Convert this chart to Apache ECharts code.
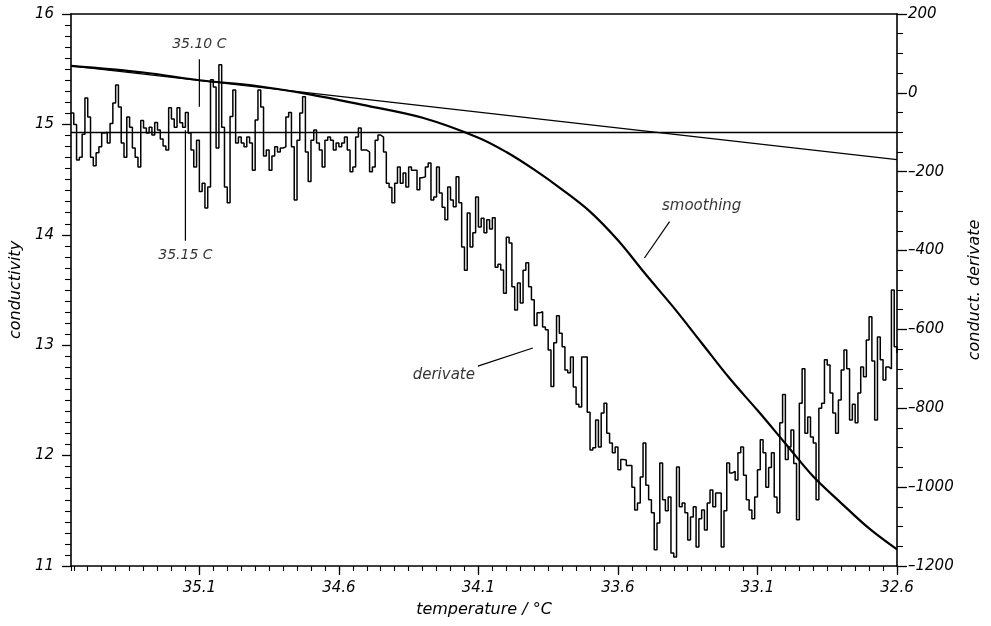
<!DOCTYPE html>
<html>
<head>
<meta charset="utf-8">
<script src="https://cdn.jsdelivr.net/npm/echarts@6/dist/echarts.min.js"></script>
<style>
  html, body { margin: 0; padding: 0; background: #fff; }
  #chart { width: 991px; height: 626px; }
</style>
</head>
<body>
<div id="chart"></div>
<script>
// Conductivity recorded while cooling, its smoothed curve and its derivative.

// derivative samples, one every temperatureStep °C starting at temperatureStart
const temperatureStart = 35.56;
const temperatureStep = 0.01;
const derivative = [
  -51, -80, -170, -163, -105, -13, -61, -163, -185, -152,
  -137, -102, -100, -127, -78, -26, 20, -36, -127, -163,
  -61, -87, -140, -163, -188, -70, -89, -102, -87, -107,
  -75, -94, -117, -135, -145, -38, -66, -87, -38, -76,
  -87, -50, -102, -145, -188, -120, -250, -229, -292, -239,
  33, 15, -140, 71, -87, -239, -279, -60, 7, -127,
  -112, -127, -137, -112, -127, -196, -69, 7, -36, -160,
  -145, -196, -160, -137, -150, -140, -137, -61, -50, -137,
  -272, -120, -51, -10, -150, -225, -120, -94, -127, -145,
  -188, -120, -112, -120, -145, -127, -137, -127, -112, -145,
  -200, -188, -112, -89, -145, -145, -150, -200, -188, -120,
  -107, -112, -150, -229, -240, -279, -229, -188, -229, -203,
  -239, -188, -196, -196, -246, -215, -213, -188, -178, -272,
  -264, -188, -254, -290, -322, -239, -272, -289, -213, -279,
  -391, -450, -305, -391, -355, -264, -340, -318, -355, -322,
  -345, -317, -442, -435, -449, -508, -366, -381, -492, -551,
  -482, -533, -450, -431, -492, -525, -590, -558, -555, -594,
  -601, -652, -745, -634, -565, -610, -644, -703, -710, -670,
  -746, -790, -797, -670, -670, -810, -906, -900, -830, -898,
  -812, -787, -863, -888, -913, -898, -956, -930, -931, -945,
  -945, -1000, -1058, -1040, -974, -888, -995, -1032, -1065, -1159,
  -1091, -939, -1032, -1060, -1025, -1167, -1177, -949, -1050, -1040,
  -1065, -1134, -1076, -1050, -1152, -1080, -1058, -1109, -1040, -1007,
  -1050, -1015, -1015, -1152, -1060, -939, -964, -960, -982, -913,
  -898, -970, -1032, -1058, -1080, -1025, -956, -880, -913, -1000,
  -950, -913, -1025, -1065, -837, -765, -930, -898, -855, -940,
  -1083, -787, -700, -863, -822, -873, -888, -1032, -800, -787,
  -677, -690, -761, -812, -863, -779, -703, -652, -700, -830,
  -790, -837, -761, -695, -720, -627, -568, -680, -830, -619,
  -677, -728, -695, -700, -500, -644, -660
];

// smoothed conductivity curve
const smoothingTemperature = [35.56, 35.3, 35.1, 34.9, 34.7, 34.5, 34.3, 34.1, 34.0, 33.9, 33.8, 33.7,
  33.6, 33.5, 33.4, 33.3, 33.2, 33.1, 33.0, 32.9, 32.8, 32.7, 32.6];
const smoothingConductivity = [15.53, 15.47, 15.40, 15.35, 15.27, 15.17, 15.06, 14.88, 14.75, 14.59, 14.41, 14.21,
  13.95, 13.64, 13.34, 13.02, 12.70, 12.41, 12.11, 11.81, 11.57, 11.34, 11.15];

// straight line fitted to the start of the curve
const tangentTemperature = [35.56, 32.6];
const tangentConductivity = [15.53, 14.68];

// reference level of the derivative
const derivativeBaseline = -100;

// marked temperatures (vertical ticks spanning derivative values top..bottom)
const markerTemperature = [35.10, 35.15];
const markerLabel = ['35.10 C', '35.15 C'];
const markerTop = [85, -95];
const markerBottom = [-35, -375];

// curve captions: text anchor and leader line end points
const smoothingCaption = { text: 'smoothing', at: [33.30, 14.26], leader: [[33.415, 14.12], [33.505, 13.79]] };
const derivateCaption = { text: 'derivate', at: [34.224, -715], leader: [[34.102, -693], [33.905, -647]] };

const X_MIN = 32.6, X_MAX = 35.56;
const FONT = 'DejaVu Sans';
const INK = '#000';

const derivativeData = derivative.map((d, i) => [+(temperatureStart - i * temperatureStep).toFixed(2), d]);
const smoothingData = smoothingTemperature.map((t, i) => [t, smoothingConductivity[i]]);
const tangentData = tangentTemperature.map((t, i) => [t, tangentConductivity[i]]);

const labelStyle = { color: INK, fontFamily: FONT, fontStyle: 'italic', fontSize: 15 };
const nameStyle = { color: INK, fontFamily: FONT, fontStyle: 'italic', fontSize: 16 };
const minus = v => (v < 0 ? '\u2013' + Math.abs(v) : String(v));

const series = [];

series.push({
  name: 'derivate', type: 'line', xAxisIndex: 0, yAxisIndex: 1,
  data: derivativeData, step: 'end', showSymbol: false, symbol: 'none',
  lineStyle: { color: INK, width: 1.5 }, z: 3,
  markLine: {
    silent: true, symbol: 'none', label: { show: false },
    lineStyle: { color: INK, width: 1.3, type: 'solid' },
    data: [{ yAxis: derivativeBaseline }]
  }
});

series.push({
  name: 'smoothing', type: 'line', xAxisIndex: 0, yAxisIndex: 0,
  data: smoothingData, smooth: 0.35, showSymbol: false, symbol: 'none',
  lineStyle: { color: INK, width: 2.2 }, z: 4
});

series.push({
  name: 'tangent', type: 'line', xAxisIndex: 0, yAxisIndex: 0,
  data: tangentData, showSymbol: false, symbol: 'none',
  lineStyle: { color: INK, width: 1.3 }, z: 4
});

markerTemperature.forEach((t, i) => {
  series.push({
    type: 'line', xAxisIndex: 0, yAxisIndex: 1, symbol: 'none',
    data: [[t, markerTop[i]], [t, markerBottom[i]]],
    lineStyle: { color: INK, width: 1.2 }, z: 5, silent: true
  });
});

series.push({
  type: 'scatter', xAxisIndex: 0, yAxisIndex: 1, symbolSize: 1, silent: true,
  itemStyle: { color: 'rgba(0,0,0,0)' },
  data: markerTemperature.map((t, i) => ({
    value: [t, i === 0 ? markerTop[i] : markerBottom[i]],
    label: {
      show: true, position: i === 0 ? 'top' : 'bottom', distance: 7,
      formatter: markerLabel[i], color: INK, fontFamily: FONT, fontStyle: 'italic', fontSize: 14
    }
  })),
  z: 6
});

[[smoothingCaption, 0], [derivateCaption, 1]].forEach(([cap, axis]) => {
  series.push({
    type: 'line', xAxisIndex: 0, yAxisIndex: axis, symbol: 'none', silent: true,
    data: cap.leader, lineStyle: { color: INK, width: 1.2 }, z: 5
  });
  series.push({
    type: 'scatter', xAxisIndex: 0, yAxisIndex: axis, symbolSize: 1, silent: true,
    itemStyle: { color: 'rgba(0,0,0,0)' },
    data: [{ value: cap.at, label: { show: true, position: 'inside', formatter: cap.text,
      color: INK, fontFamily: FONT, fontStyle: 'italic', fontSize: 15 } }],
    z: 6
  });
});

const chart = echarts.init(document.getElementById('chart'), null, { renderer: 'canvas' });
chart.setOption({
  animation: false,
  backgroundColor: '#fff',
  grid: { left: 70, right: 94, top: 14, bottom: 60, containLabel: false },
  xAxis: [
    {
      type: 'value', position: 'bottom', min: X_MIN, max: X_MAX, inverse: true, interval: 0.5,
      axisLine: { show: true, onZero: false, lineStyle: { color: INK, width: 1.6 } },
      axisTick: { show: true, length: 9, lineStyle: { color: INK, width: 1.3 } },
      axisLabel: Object.assign({ margin: 15, showMaxLabel: false, formatter: v => v.toFixed(1) }, labelStyle),
      splitLine: { show: false },
      name: 'temperature / \u00B0C', nameLocation: 'middle', nameGap: 36, nameTextStyle: nameStyle
    },
    {
      // fine 0.05 °C graduation
      type: 'value', position: 'bottom', min: X_MIN, max: X_MAX, inverse: true, interval: 0.05,
      axisLine: { show: false, onZero: false },
      axisTick: { show: true, length: 5, lineStyle: { color: INK, width: 1.1 } },
      axisLabel: { show: false }, splitLine: { show: false }
    },
    {
      type: 'value', position: 'top', min: X_MIN, max: X_MAX, inverse: true,
      axisLine: { show: true, onZero: false, lineStyle: { color: INK, width: 1.6 } },
      axisTick: { show: false }, axisLabel: { show: false }, splitLine: { show: false }
    }
  ],
  yAxis: [
    {
      type: 'value', position: 'left', min: 11, max: 16, interval: 1,
      axisLine: { show: true, onZero: false, lineStyle: { color: INK, width: 1.6 } },
      axisTick: { show: true, length: 9, lineStyle: { color: INK, width: 1.3 } },
      minorTick: { show: true, splitNumber: 10, length: 6, lineStyle: { color: INK, width: 1.1 } },
      axisLabel: Object.assign({ margin: 17 }, labelStyle),
      splitLine: { show: false }, minorSplitLine: { show: false },
      name: 'conductivity', nameLocation: 'middle', nameRotate: 90, nameGap: 44, nameTextStyle: nameStyle
    },
    {
      type: 'value', position: 'right', min: -1200, max: 200, interval: 200,
      axisLine: { show: true, onZero: false, lineStyle: { color: INK, width: 1.6 } },
      axisTick: { show: true, length: 10, lineStyle: { color: INK, width: 1.3 } },
      minorTick: { show: true, splitNumber: 4, length: 6, lineStyle: { color: INK, width: 1.1 } },
      axisLabel: Object.assign({ margin: 11, formatter: minus }, labelStyle),
      splitLine: { show: false }, minorSplitLine: { show: false },
      name: 'conduct. derivate', nameLocation: 'middle', nameRotate: 90, nameGap: 70, nameTextStyle: nameStyle
    }
  ],
  series: series
});
</script>
</body>
</html>
